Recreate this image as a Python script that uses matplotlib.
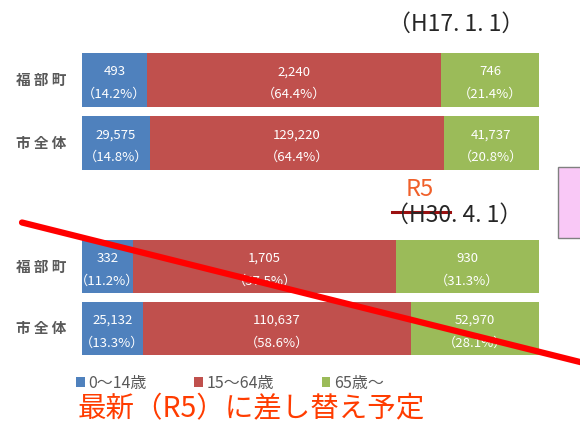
import matplotlib.pyplot as plt
from matplotlib.lines import Line2D
from matplotlib.patches import Rectangle

# データ
areas = ["福部町", "市全体"]
age_groups = ["0～14歳", "15～64歳", "65歳～"]
colors = ["#4F81BD", "#C0504D", "#9BBB59"]

# H17.1.1
pop_h17 = [[493, 2240, 746],
           [29575, 129220, 41737]]
pct_h17 = [[14.2, 64.4, 21.4],
           [14.8, 64.4, 20.8]]

# H30.4.1
pop_h30 = [[332, 1705, 930],
           [25132, 110637, 52970]]
pct_h30 = [[11.2, 57.5, 31.3],
           [13.3, 58.6, 28.1]]

plt.rcParams["font.family"] = ["Noto Sans CJK JP", "DejaVu Sans"]

W, H = 580, 423
fig = plt.figure(figsize=(W / 100, H / 100), dpi=100)


def fx(px):
    return px / W


def fy(py):
    return 1 - py / H


def draw_group(ax, pops, pcts):
    bars = []
    for i in range(len(areas)):
        left = 0
        for j in range(len(age_groups)):
            b = ax.barh(i, pcts[i][j], left=left, height=0.86,
                        color=colors[j], label=age_groups[j] if i == 0 else None)
            cx = left + pcts[i][j] / 2
            ax.text(cx, i - 0.13, f"{pops[i][j]:,}", ha="center", va="center",
                    color="white", fontsize=9.5)
            ax.text(cx, i + 0.23, f"（{pcts[i][j]:.1f}%）", ha="center", va="center",
                    color="white", fontsize=9.5)
            left += pcts[i][j]
            if i == 0:
                bars.append(b)
        ax.text(-0.035, i, " ".join(areas[i]), transform=ax.get_yaxis_transform(),
                ha="right", va="center", fontsize=10.5, fontweight="bold", color="#595959")
    ax.set_xlim(0, 100)
    ax.set_ylim(1.5, -0.5)
    ax.axis("off")
    return bars


# 上段 (H17)
ax1 = fig.add_axes([fx(82), fy(174.5), fx(457), 126 / H])
draw_group(ax1, pop_h17, pct_h17)

# 下段 (H30)
ax2 = fig.add_axes([fx(82), fy(359.5), fx(457), 124 / H])
bars = draw_group(ax2, pop_h30, pct_h30)

fig.text(fx(456), fy(24), "（H17. 1. 1）", ha="center", va="center",
         fontsize=16.5, color="#262626")
fig.text(fx(454), fy(215), "（H30. 4. 1）", ha="center", va="center",
         fontsize=16.5, color="#262626")
fig.add_artist(Line2D([fx(392), fx(450)], [fy(212), fy(212)],
                      color="#9b1010", lw=2.2, transform=fig.transFigure))
fig.text(fx(420), fy(189), "R5", ha="center", va="center",
         fontsize=17, color="#f0602a")

# 右端のピンクの枠
fig.add_artist(Rectangle((fx(558), fy(238)), fx(30), 71 / H,
                         facecolor="#f9c8f6", edgecolor="#808080", lw=1,
                         transform=fig.transFigure))

# 凡例
ax2.legend(handles=bars, labels=age_groups, loc="center left",
           bbox_to_anchor=(fx(76), fy(383)), bbox_transform=fig.transFigure,
           ncol=3, frameon=False, fontsize=11.5, handlelength=0.55, handleheight=0.55,
           handletextpad=0.2, columnspacing=3.0, borderpad=0, borderaxespad=0,
           labelcolor="#595959")

fig.text(fx(78), fy(409), "最新（R5）に差し替え予定", ha="left", va="center",
         fontsize=20.5, color="#ff3c00")

# 赤の斜線
fig.add_artist(Line2D([fx(22), fx(590)], [fy(222.5), fy(364.5)],
                      color="#ff0000", lw=4.5, solid_capstyle="round",
                      transform=fig.transFigure))

fig.savefig("out.png", dpi=100)
